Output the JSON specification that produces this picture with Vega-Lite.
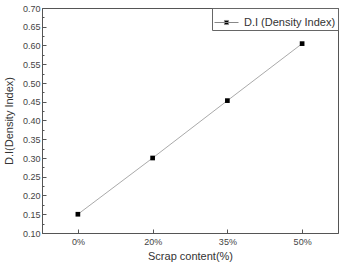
{
  "$schema": "https://vega.github.io/schema/vega-lite/v6.json",
  "width": 296,
  "height": 225,
  "autosize": "none",
  "padding": {"left": 42, "top": 8, "right": 3, "bottom": 33},
  "background": "white",
  "config": {
    "view": {"stroke": "#555", "strokeWidth": 1},
    "font": "Liberation Sans",
    "axis": {"grid": false, "domainColor": "#555", "tickColor": "#555", "labelColor": "#444", "titleColor": "#333", "labelFont": "Liberation Sans", "titleFont": "Liberation Sans", "titleFontWeight": "normal"}
  },
  "data": {"values": [
    {"scrap": "0%", "di": 0.150, "series": "D.I (Density Index)"},
    {"scrap": "20%", "di": 0.300, "series": "D.I (Density Index)"},
    {"scrap": "35%", "di": 0.453, "series": "D.I (Density Index)"},
    {"scrap": "50%", "di": 0.605, "series": "D.I (Density Index)"}
  ]},
  "encoding": {
    "x": {"field": "scrap", "type": "ordinal", "sort": ["0%", "20%", "35%", "50%"],
      "scale": {"type": "point", "padding": 0.48},
      "axis": {"title": "Scrap content(%)", "labelAngle": 0, "labelFontSize": 9, "titleFontSize": 11, "tickSize": -4, "labelPadding": 8, "titlePadding": 4}},
    "y": {"field": "di", "type": "quantitative",
      "scale": {"domain": [0.10, 0.70], "nice": false, "zero": false},
      "axis": {"title": "D.I(Density Index)", "titleFontSize": 11, "labelFontSize": 9, "titlePadding": 8,
        "values": [0.1,0.125,0.15,0.175,0.2,0.225,0.25,0.275,0.3,0.325,0.35,0.375,0.4,0.425,0.45,0.475,0.5,0.525,0.55,0.575,0.6,0.625,0.65,0.675,0.7],
        "labelExpr": "round(datum.value*40) % 2 == 0 ? format(datum.value, '.2f') : ''",
        "tickSize": {"condition": {"test": "round(datum.value*40) % 2 == 0", "value": -4}, "value": -2},
        "labelPadding": 6}}
  },
  "layer": [
    {"mark": {"type": "line", "color": "#aaa", "strokeWidth": 1}},
    {"mark": {"type": "point", "shape": "square", "filled": true, "size": 22, "opacity": 1},
      "encoding": {
        "color": {"field": "series", "type": "nominal", "scale": {"range": ["black"]},
          "legend": {"title": null, "orient": "top-right", "offset": 0, "strokeColor": "#666", "padding": 2,
            "labelFontSize": 11, "labelColor": "#333", "labelFont": "Liberation Sans", "labelOffset": 5,
            "symbolType": "M-1,0H1M-0.17,-0.17H0.17V0.17H-0.17Z", "symbolSize": 576,
            "symbolStrokeColor": "#888", "symbolStrokeWidth": 1, "symbolFillColor": "black", "symbolOpacity": 1}}
      }}
  ]
}
